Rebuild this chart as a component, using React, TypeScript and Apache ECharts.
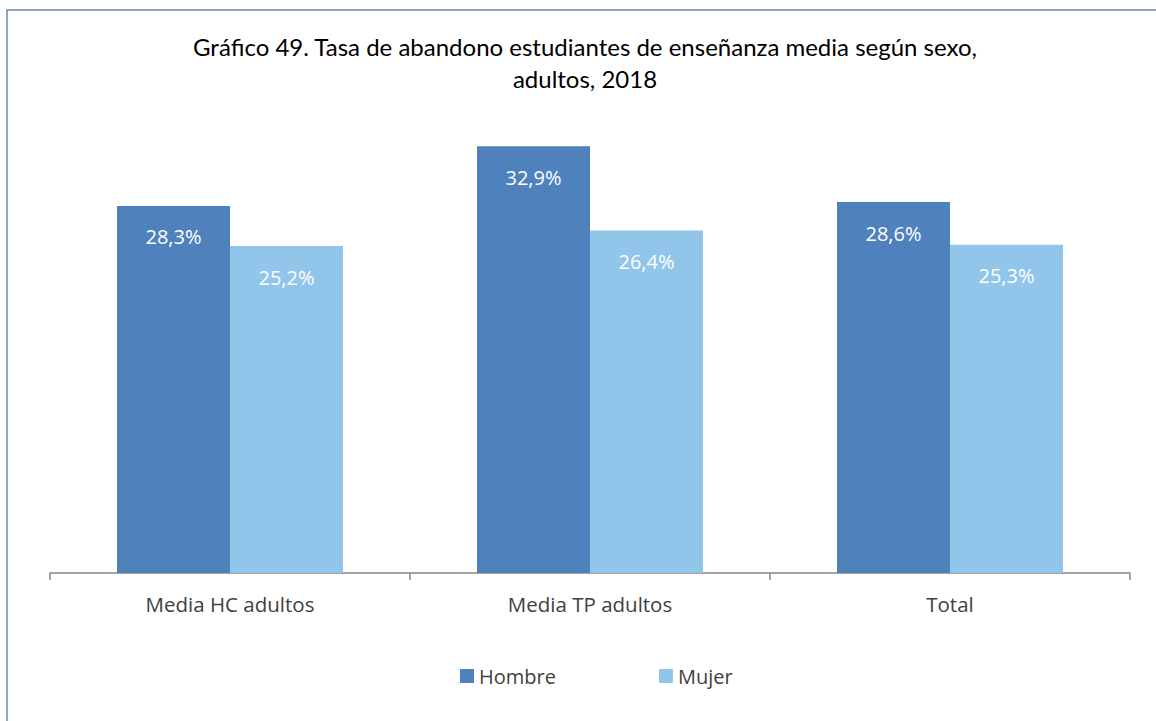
import React, { useEffect, useRef } from "react";
import * as echarts from "echarts";

const titleText = "Gráfico 49. Tasa de abandono estudiantes de enseñanza media según sexo,\nadultos, 2018";
const categories = ["Media HC adultos", "Media TP adultos", "Total"];
const hombre = [28.3, 32.9, 28.6];
const mujer = [25.2, 26.4, 25.3];
const seriesNames = ["Hombre", "Mujer"];

const fmt = (v: number) => v.toFixed(1).replace(".", ",") + "%";

export default function App() {
  const ref = useRef<HTMLDivElement>(null);
  useEffect(() => {
    document.body.style.margin = "0";
    if (!ref.current) return;
    const chart = echarts.init(ref.current, null, { renderer: "svg" });
    const labelCfg = {
      show: true,
      position: "insideTop",
      distance: 21,
      color: "#ffffff",
      fontFamily: "Open Sans",
      fontSize: 20,
      formatter: (p: any) => fmt(p.value),
    };
    chart.setOption({
      animation: false,
      backgroundColor: "#ffffff",
      title: {
        text: titleText,
        left: 580,
        textAlign: "center",
        top: 25,
        textStyle: {
          fontFamily: "Lato",
          fontSize: 24,
          fontWeight: "normal",
          color: "#000000",
          lineHeight: 32,
        },
      },
      graphic: [
        {
          type: "rect",
          shape: { x: 7, y: 10, width: 1160, height: 730 },
          style: { fill: "none", stroke: "#6E87AC", lineWidth: 1.5 },
          silent: true,
        },
      ],
      legend: {
        data: seriesNames,
        left: 455,
        top: 661,
        itemWidth: 14,
        itemHeight: 14,
        itemGap: 103,
        icon: "rect",
        textStyle: { fontFamily: "Open Sans", fontSize: 20, color: "#404040" },
      },
      grid: { left: 50, right: 26, top: 119, bottom: 148, containLabel: false },
      xAxis: {
        type: "category",
        data: categories,
        axisLine: { show: true, lineStyle: { color: "#868686", width: 1.5 } },
        axisTick: { show: true, length: 7, lineStyle: { color: "#868686", width: 1.5 } },
        axisLabel: { fontFamily: "Open Sans", fontSize: 20.5, color: "#404040", margin: 20 },
      },
      yAxis: {
        type: "value",
        min: 0,
        max: 35,
        interval: 5,
        show: false,
        splitLine: { show: false },
      },
      series: [
        {
          name: seriesNames[0],
          type: "bar",
          data: hombre,
          barWidth: 113,
          barGap: "0%",
          itemStyle: { color: "#4F81BD" },
          label: labelCfg,
        },
        {
          name: seriesNames[1],
          type: "bar",
          data: mujer,
          barWidth: 113,
          barGap: "0%",
          itemStyle: { color: "#91C5EA" },
          label: labelCfg,
        },
      ],
    });
    return () => chart.dispose();
  }, []);
  return <div ref={ref} style={{ width: 1156, height: 721 }} />;
}
